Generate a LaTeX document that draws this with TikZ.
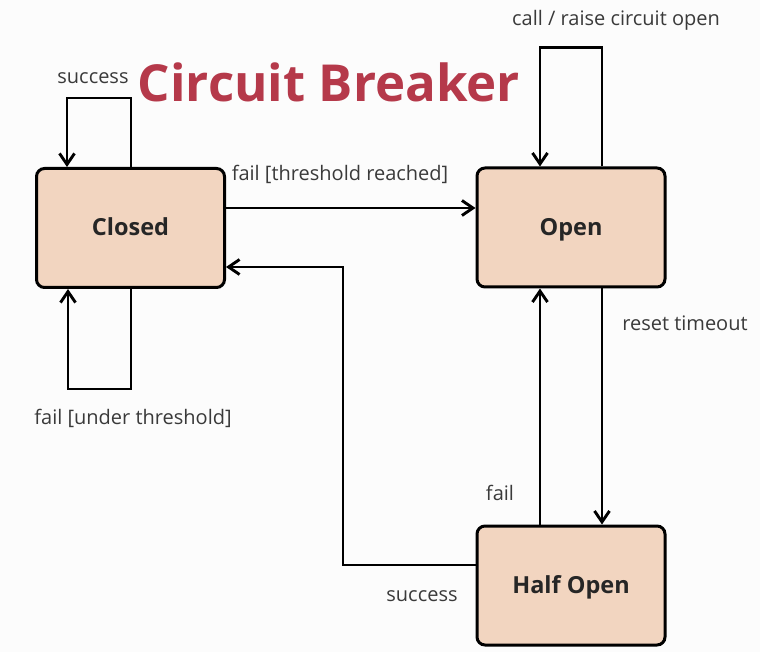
\documentclass[tikz,border=0pt]{standalone}
\usepackage{fontspec}
\setmainfont{Open Sans}
\usetikzlibrary{arrows.meta}
\definecolor{boxfill}{HTML}{F2D5C0}
\definecolor{titlered}{HTML}{B5394A}
\definecolor{lblgray}{HTML}{3A3A3A}
\definecolor{bg}{HTML}{FCFCFC}
\tikzset{
  state/.style={draw=black, line width=3pt, fill=boxfill, rounded corners=8pt,
    minimum width=188pt, minimum height=119pt, inner sep=0pt,
    text height=1.55em, text depth=0pt,
    font=\fontsize{23.5}{28}\selectfont\bfseries, text=black!85},
  lbl/.style={font=\fontsize{20}{24}\selectfont, text=lblgray, inner sep=0pt},
  arr/.style={line width=2.9pt, -{Straight Barb[length=11pt,width=15pt]}},
}
\begin{document}
\begin{tikzpicture}[x=1pt,y=-1pt]
\path[fill=bg] (0,0) rectangle (760,652);
\useasboundingbox (0,0) rectangle (760,652);

\node[state] (closed) at (130.5,228) {Closed};
\node[state] (open) at (571,227.5) {Open};
\node[state] (half) at (571,585.5) {Half Open};

\node[font=\fontsize{51}{58}\selectfont\bfseries, text=titlered, inner sep=0pt] (title) at (329,82) {Circuit Breaker};

% Closed top loop
\draw[arr] ([xshift=0.5pt]closed.north) -- ++(0,-69) -| ([xshift=-63.5pt]closed.north);
% Closed bottom loop
\draw[arr] ([xshift=0.5pt]closed.south) -- ++(0,100) -| ([xshift=-62.5pt]closed.south);
% Open self loop
\draw[arr] ([xshift=31pt]open.north) -- ++(0,-119) -| ([xshift=-31pt]open.north);
% Closed -> Open
\coordinate (ce) at ([yshift=20pt]closed.east);
\draw[arr] (ce) -- (ce -| open.west);
% Open -> Half Open
\draw[arr] ([xshift=31pt]open.south) -- ([xshift=31pt]half.north);
% Half Open -> Open
\draw[arr] ([xshift=-31pt]half.north) -- ([xshift=-31pt]open.south);
% Half Open -> Closed
\draw[arr] ([yshift=20.5pt]half.west) -| ([xshift=117pt,yshift=-39pt]closed.east) -- ([yshift=-39pt]closed.east);

\node[lbl] (l1) at (93,78) {success};
\node[lbl] (l2) at (340,174) {fail [threshold reached]};
\node[lbl] (l3) at (616,20) {call / raise circuit open};
\node[lbl] (l4) at (685,323) {reset timeout};
\node[lbl] (l5) at (133,418) {fail [under threshold]};
\node[lbl] (l6) at (500,493) {fail};
\node[lbl] (l7) at (422,596) {success};
\end{tikzpicture}
\end{document}
